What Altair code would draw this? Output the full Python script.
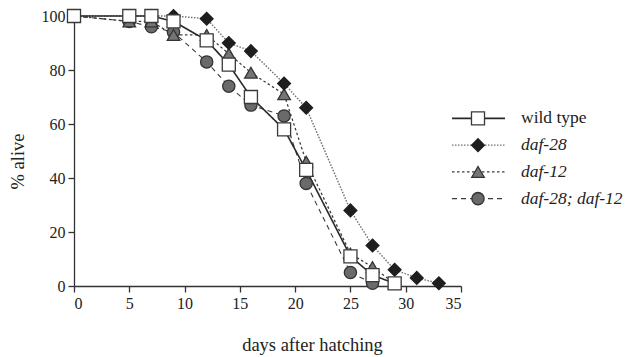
import altair as alt
import pandas as pd

series = ["wild type", "daf-28", "daf-12", "daf-28; daf-12"]

days_wt = [0, 5, 7, 9, 12, 14, 16, 19, 21, 25, 27, 29]
pct_wt = [100, 100, 100, 98, 91, 82, 70, 58, 43, 11, 4, 1]

days_d28 = [0, 5, 7, 9, 12, 14, 16, 19, 21, 25, 27, 29, 31, 33]
pct_d28 = [100, 100, 100, 100, 99, 90, 87, 75, 66, 28, 15, 6, 3, 1]

days_d12 = [0, 5, 7, 9, 12, 14, 16, 19, 21, 25, 27, 29]
pct_d12 = [100, 98, 98, 93, 93, 86, 79, 71, 46, 12, 7, 1]

days_dd = [0, 5, 7, 9, 12, 14, 16, 19, 21, 25, 27]
pct_dd = [100, 98, 96, 94, 83, 74, 67, 63, 38, 5, 1]

x_ticks = [0, 5, 10, 15, 20, 25, 30, 35]
y_ticks = [0, 20, 40, 60, 80, 100]

rows = []
for name, ds, ps, z in [
    ("wild type", days_wt, pct_wt, 4),
    ("daf-28", days_d28, pct_d28, 3),
    ("daf-12", days_d12, pct_d12, 2),
    ("daf-28; daf-12", days_dd, pct_dd, 1),
]:
    for d, p in zip(ds, ps):
        rows.append({"series": name, "day": d, "pct": p, "z": z})
df = pd.DataFrame(rows).sort_values(["z", "day"]).reset_index(drop=True)

leg = pd.DataFrame({"series": series})

FONT = "Liberation Serif"

line_color = alt.Scale(domain=series, range=["#2a2a2a", "#707070", "#3a3a3a", "#3a3a3a"])
dash_scale = alt.Scale(domain=series, range=[[1, 0], [1.5, 1.5], [2.5, 2.5], [5, 4]])
width_scale = alt.Scale(domain=series, range=[1.6, 1.1, 1.4, 1.4])
shape_scale = alt.Scale(domain=series, range=["square", "diamond", "triangle-up", "circle"])
fill_scale = alt.Scale(domain=series, range=["#ffffff", "#1e1e1e", "#757575", "#6a6a6a"])
stroke_scale = alt.Scale(domain=series, range=["#3a3a3a", "#1e1e1e", "#333333", "#333333"])
size_scale = alt.Scale(domain=series, range=[170, 150, 140, 150])

xenc = alt.X("day:Q", scale=alt.Scale(domain=[0, 35], nice=False),
             axis=alt.Axis(values=x_ticks, title="days after hatching",
                           titlePadding=24, titleX=238))
yenc = alt.Y("pct:Q", scale=alt.Scale(domain=[0, 100], nice=False),
             axis=alt.Axis(values=y_ticks, title="% alive", titlePadding=14, titleY=145))

lines = alt.Chart(df).mark_line().encode(
    x=xenc,
    y=yenc,
    detail="series:N",
    color=alt.Color("series:N", scale=line_color, legend=None),
    strokeDash=alt.StrokeDash("series:N", scale=dash_scale, legend=None),
    strokeWidth=alt.StrokeWidth("series:N", scale=width_scale, legend=None),
)

points = alt.Chart(df).mark_point(filled=True, opacity=1, strokeWidth=1.3).encode(
    x=xenc,
    y=yenc,
    shape=alt.Shape("series:N", scale=shape_scale, legend=None),
    fill=alt.Fill("series:N", scale=fill_scale, legend=None),
    stroke=alt.Stroke("series:N", scale=stroke_scale, legend=None),
    size=alt.Size("series:N", scale=size_scale, legend=None),
    order=alt.Order("z:Q"),
)

main = alt.layer(lines, points)

ly = alt.Y("series:N", scale=alt.Scale(domain=series, range=[89, 196], padding=0), axis=None)

leg_rule = alt.Chart(leg).mark_rule().encode(
    x=alt.value(378), x2=alt.value(431),
    y=ly,
    color=alt.Color("series:N", scale=line_color, legend=None),
    strokeDash=alt.StrokeDash("series:N", scale=dash_scale, legend=None),
    strokeWidth=alt.StrokeWidth("series:N", scale=width_scale, legend=None),
)
leg_pt = alt.Chart(leg).mark_point(filled=True, opacity=1, strokeWidth=1.3).encode(
    x=alt.value(404),
    y=ly,
    shape=alt.Shape("series:N", scale=shape_scale, legend=None),
    fill=alt.Fill("series:N", scale=fill_scale, legend=None),
    stroke=alt.Stroke("series:N", scale=stroke_scale, legend=None),
    size=alt.Size("series:N", scale=size_scale, legend=None),
)
leg_txt_plain = alt.Chart(leg).transform_filter(
    alt.datum.series == "wild type"
).mark_text(align="left", baseline="middle", font=FONT, fontSize=17.5, color="#222").encode(
    x=alt.value(447), y=ly, text="series:N"
)
leg_txt_ital = alt.Chart(leg).transform_filter(
    alt.datum.series != "wild type"
).mark_text(align="left", baseline="middle", font=FONT, fontSize=17.5, fontStyle="italic",
            color="#222").encode(
    x=alt.value(447), y=ly, text="series:N"
)
legend = alt.layer(leg_rule, leg_pt, leg_txt_plain, leg_txt_ital)

chart = alt.layer(main, legend).resolve_scale(y="independent").properties(
    width=387,
    height=270,
    autosize=alt.AutoSizeParams(type="none"),
    padding={"left": 66, "top": 8, "right": 164, "bottom": 71},
    background="white",
).configure_view(stroke=None).configure_axis(
    grid=False,
    domainColor="#333",
    domainWidth=1.3,
    tickColor="#333",
    tickWidth=1.3,
    tickSize=6,
    labelFont=FONT,
    labelFontSize=16,
    labelColor="#222",
    labelPadding=3,
    titleFont=FONT,
    titleFontSize=18.5,
    titleFontWeight="normal",
    titleColor="#222",
)

chart.save("out.html", embed_options={"renderer": "svg", "actions": False})
